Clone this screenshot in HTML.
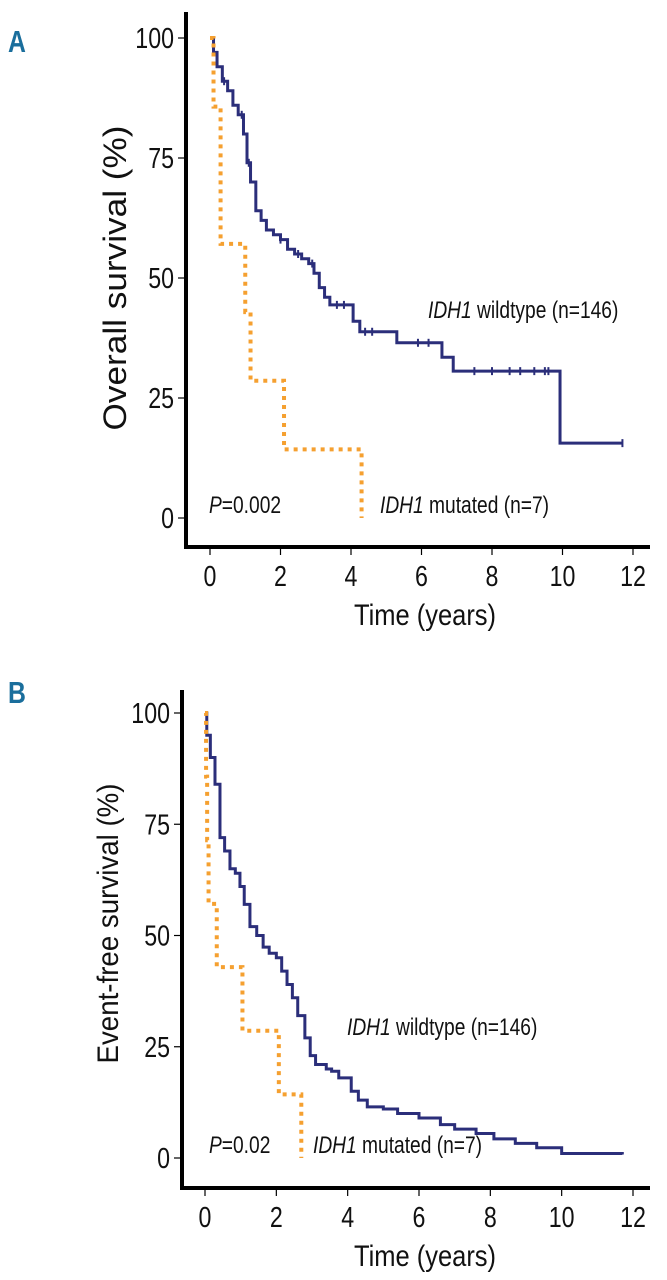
<!DOCTYPE html>
<html><head><meta charset="utf-8"><style>
html,body{margin:0;padding:0;background:#fff;}
svg{display:block;font-family:"Liberation Sans",sans-serif;}
</style></head><body>
<svg id="fig" width="667" height="1280" viewBox="0 0 667 1280" xmlns="http://www.w3.org/2000/svg"></svg>
<script>
const xTicks = [0,2,4,6,8,10,12];
const yTicks = [0,25,50,75,100];
// Panel A - overall survival
const aWildT = [0,0.1,0.2,0.35,0.5,0.65,0.8,0.95,1.05,1.15,1.3,1.45,1.6,1.8,2.0,2.2,2.4,2.6,2.8,2.95,3.1,3.25,3.4,4.06,4.25,5.3,6.58,6.9,9.93,11.7];
const aWildS = [100,97,94,91,89,86,84,80,74,70,64,62,60,59,58,56,55,54,53,51,48,46,44.4,41,38.8,36.5,33.5,30.6,15.6,15.6];
const aMutT = [0,0.1,0.3,1.0,1.15,2.1,4.3];
const aMutS = [100,85.7,57.1,42.9,28.6,14.3,0];
const aCensT = [0.1,0.4,0.9,1.1,2.0,2.5,2.9,3.6,3.8,4.4,4.6,5.9,6.2,7.5,8.0,8.5,8.8,9.2,9.5,9.6,11.7];
// Panel B - event-free survival
const bWildT = [0,0.05,0.15,0.28,0.42,0.55,0.7,0.85,0.98,1.1,1.26,1.45,1.63,1.8,2.0,2.15,2.3,2.45,2.6,2.8,2.95,3.1,3.4,3.55,3.75,4.1,4.3,4.55,5.0,5.4,6.0,6.6,7.0,7.6,8.1,8.7,9.3,10.0,11.7];
const bWildS = [100,95,90,84,72,69,65,64,61,57,52,50,47.4,46,45,42,39,36,32,27,23,21,20,19.5,18,15,13,11.5,11,10,9,7.5,6.5,5.5,4.3,3.3,2.3,1.0,0.8];
const bMutT = [0,0.03,0.06,0.1,0.33,1.05,2.07,2.7];
const bMutS = [100,85.7,71.4,57.1,42.9,28.6,14.3,0];

const NS="http://www.w3.org/2000/svg";
const svg=document.getElementById('fig');
function el(tag,attrs,parent,txt){const e=document.createElementNS(NS,tag);for(const k in attrs)e.setAttribute(k,attrs[k]);if(txt!==undefined)e.textContent=txt;(parent||svg).appendChild(e);return e;}
function ctext(x,y,attrs,parent,txt,rot,sx){
  const a=Object.assign({x:0,y:0},attrs);
  a.transform=`translate(${x},${y})`+(rot?` rotate(${rot})`:'')+` scale(${sx||0.8},1)`;
  return el('text',a,parent,txt);
}

function panel(cfg){
  const g=el('g',{});
  
  
  const X=t=>cfg.x0+(cfg.x12-cfg.x0)*t/12;
  const Y=s=>cfg.y0+(cfg.y100-cfg.y0)*s/100;
  const L=ctext(8,cfg.letterY,{'font-size':31,'font-weight':'bold',fill:'#1a6e9c'},g,cfg.letter);
  
  
  const ya=el('line',{x1:cfg.ax,y1:cfg.axTop,x2:cfg.ax,y2:cfg.axY,stroke:'#000','stroke-width':4},g);
  
  
  const xa=el('line',{x1:cfg.ax-2,y1:cfg.axY,x2:650,y2:cfg.axY,stroke:'#000','stroke-width':4},g);
  
  
  yTicks.forEach(v=>{
    el('line',{x1:cfg.ax-8,y1:Y(v),x2:cfg.ax,y2:Y(v),stroke:'#000','stroke-width':1.2},g);
    const t=ctext(cfg.ax-12,Y(v)+10,{'font-size':29,'text-anchor':'end',fill:'#111'},g,String(v));
    
    
  });
  xTicks.forEach(v=>{
    el('line',{x1:X(v),y1:cfg.axY,x2:X(v),y2:cfg.axY+8,stroke:'#000','stroke-width':1.2},g);
    const t=ctext(X(v),cfg.axY+39,{'font-size':29,'text-anchor':'middle',fill:'#111'},g,String(v));
    
    
  });
  const xt=ctext(425,cfg.axY+78,{'font-size':30,'text-anchor':'middle',fill:'#111'},g,'Time (years)',0,0.85);
  
  
  const cy=(Y(0)+Y(100))/2+cfg.titleDy;
  const yt=el('text',{x:0,y:0,'font-size':cfg.titleSize,'text-anchor':'middle',fill:'#111',textLength:cfg.titleLen,lengthAdjust:'spacingAndGlyphs',transform:`translate(${cfg.titleX},${cy}) rotate(-90)`},g,cfg.yTitle);
  
  
  function step(T,S){let d=`M${X(T[0])},${Y(S[0])}`;for(let i=1;i<T.length;i++){d+=` H${X(T[i])} V${Y(S[i])}`;}return d;}
  const w=el('path',{d:step(cfg.wT,cfg.wS),fill:'none',stroke:'#2b2e7a','stroke-width':3},g);
  
  
  if(cfg.cT){cfg.cT.forEach(t=>{let s=cfg.wS[0];for(let i=0;i<cfg.wT.length;i++){if(cfg.wT[i]<=t)s=cfg.wS[i];}
    const c=el('line',{x1:X(t),y1:Y(s)-4,x2:X(t),y2:Y(s)+4,stroke:'#2b2e7a','stroke-width':2},g);
    
    });}
  const m=el('path',{d:step(cfg.mT,cfg.mS),fill:'none',stroke:'#f5a030','stroke-width':4,'stroke-dasharray':'4 5'},g);
  
  
  const wl=ctext(cfg.wlX,cfg.wlY,{'font-size':24,fill:'#111'},g);
  
  
  el('tspan',{'font-style':'italic'},wl,'IDH1');el('tspan',{},wl,' wildtype (n=146)');
  const ml=ctext(cfg.mlX,Y(0)-5,{'font-size':24,fill:'#111'},g);
  
  
  el('tspan',{'font-style':'italic'},ml,'IDH1');el('tspan',{},ml,' mutated (n=7)');
  const p=ctext(209,Y(0)-5,{'font-size':24,fill:'#111'},g);
  
  
  el('tspan',{'font-style':'italic'},p,'P');el('tspan',{},p,'='+cfg.p);
}
panel({name:'panel-a',letter:'A',letterY:52,x0:210,x12:633,y0:518,y100:38,ax:186,axTop:12,axY:547,
  yTitle:'Overall survival (%)',titleX:126,titleLen:305,titleSize:32,titleDy:0,wT:aWildT,wS:aWildS,mT:aMutT,mS:aMutS,cT:aCensT,
  wlX:428,wlY:318,mlX:380,p:'0.002'});
panel({name:'panel-b',letter:'B',letterY:703,x0:205,x12:633,y0:1158,y100:713,ax:182,axTop:690,axY:1188,
  yTitle:'Event-free survival (%)',titleX:118,titleLen:280,titleSize:30,titleDy:-12,wT:bWildT,wS:bWildS,mT:bMutT,mS:bMutS,cT:null,
  wlX:347,wlY:1035,mlX:313,p:'0.02'});
</script>
</body></html>
